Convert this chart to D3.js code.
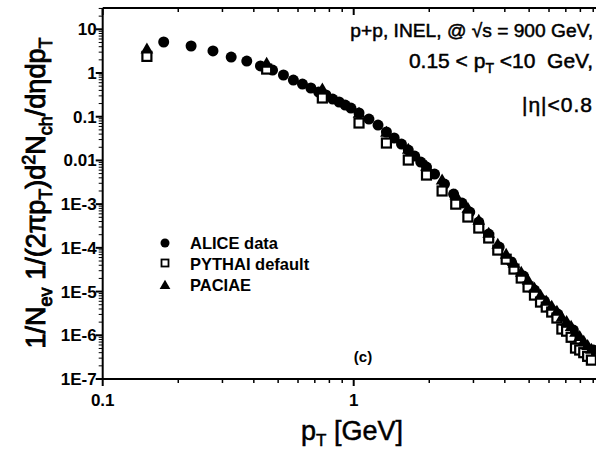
<!DOCTYPE html>
<html>
<head>
<meta charset="utf-8">
<script src="https://d3js.org/d3.v7.min.js"></script>
<style>
  body { margin: 0; background: #fff; }
  text { font-family: Arial, "Liberation Sans", sans-serif; fill: #000; }
</style>
</head>
<body>
<div id="chart"></div>
<script>
// ALICE data, pT bin centres [GeV] and 1/Nev 1/(2pi pT) d2N/deta dpT
var alicePt = [0.175, 0.225, 0.275, 0.325, 0.375, 0.425, 0.475, 0.525, 0.575, 0.625,
  0.675, 0.725, 0.775, 0.825, 0.875, 0.925, 0.975, 1.05, 1.15, 1.25, 1.35, 1.45, 1.55,
  1.65, 1.75, 1.85, 1.95, 2.1, 2.3, 2.5, 2.7, 2.9, 3.15, 3.45, 3.8, 4.25, 4.75, 5.25,
  5.75, 6.5, 7.5, 9.0];
var aliceVal = [5.12, 4.15, 3.19, 2.32, 1.88, 1.45, 1.17, 0.90, 0.69, 0.56,
  0.454, 0.367, 0.314, 0.254, 0.217, 0.185, 0.158, 0.122, 0.0886, 0.0646, 0.0447, 0.0326, 0.0237,
  0.0173, 0.0126, 0.00919, 0.00706, 0.00489, 0.00288, 0.00170, 0.00106, 6.59e-4, 3.89e-4, 2.07e-4, 1.04e-4, 4.73e-5, 2.26e-5, 1.08e-5,
  6.06e-6, 3.06e-6, 1.32e-6, 4.6e-7];

// model pT points
var modelPt = [0.15, 0.45, 0.75, 1.05, 1.35, 1.65, 1.95, 2.25, 2.55, 2.85, 3.15, 3.45, 3.75,
  4.05, 4.35, 4.65, 4.95, 5.25, 5.55, 5.85, 6.15, 6.45, 6.75, 7.05, 7.35, 7.65, 7.95, 8.25, 8.55, 8.85];
var pythiaVal = [2.4, 1.23, 0.268, 0.0718, 0.025, 0.0102, 0.00463, 0.0020, 0.00100, 5.07e-4, 2.84e-4, 1.68e-4, 8.9e-5,
  5.5e-5, 3.27e-5, 2.04e-5, 1.27e-5, 8.3e-6, 5.75e-6, 4.42e-6, 3.4e-6, 2.48e-6, 1.39e-6, 1.24e-6, 9.0e-7, 5.1e-7, 4.6e-7, 4.0e-7, 3.3e-7, 2.7e-7];
var paciaeVal = [3.4, 1.61, 0.41, 0.115, 0.0424, 0.0173, 0.00706, 0.0034, 0.00154, 7.7e-4, 4.1e-4, 2.07e-4, 1.16e-4,
  6.8e-5, 4.26e-5, 2.65e-5, 1.74e-5, 1.14e-5, 7.9e-6, 5.75e-6, 4.42e-6, 3.4e-6, 2.48e-6, 1.99e-6, 1.53e-6, 1.13e-6, 9.0e-7, 7.0e-7, 5.6e-7, 4.6e-7];

var yTickVals = [1e-7, 1e-6, 1e-5, 1e-4, 1e-3, 0.01, 0.1, 1, 10];
var yTickLabels = ["1E-7", "1E-6", "1E-5", "1E-4", "1E-3", "0.01", "0.1", "1", "10"];
var xTickVals = [0.1, 1];
var xTickLabels = ["0.1", "1"];
var legendNames = ["ALICE data", "PYTHAI default", "PACIAE"];

var width = 596, height = 452;
var margin = { top: 8, left: 102.7, bottom: 73 };

var svg = d3.select("#chart").append("svg")
  .attr("width", width).attr("height", height);

var x = d3.scaleLog().domain([0.1, 10]).range([margin.left, margin.left + 502]);
var y = d3.scaleLog().domain([1e-7, 30.7]).range([height - margin.bottom, margin.top]);

// minor tick positions
var xMinor = [], yMinor = [];
[0.1, 1].forEach(function (d) { for (var k = 2; k <= 9; k++) xMinor.push(d * k); });
for (var e = -7; e <= 1; e++) { for (var k = 2; k <= 9; k++) { var v = k * Math.pow(10, e); if (v < 30.7) yMinor.push(v); } }

var frame = svg.append("g").attr("stroke", "#000").attr("fill", "none");
// axes lines
frame.append("line").attr("x1", x(0.1)).attr("x2", x(10)).attr("y1", y(1e-7)).attr("y2", y(1e-7)).attr("stroke-width", 2);
frame.append("line").attr("x1", x(0.1)).attr("x2", x(10)).attr("y1", y(30.7)).attr("y2", y(30.7)).attr("stroke-width", 2);
frame.append("line").attr("x1", x(0.1)).attr("x2", x(0.1)).attr("y1", y(1e-7)).attr("y2", y(30.7)).attr("stroke-width", 2);

// bottom ticks (outward), top ticks (inward)
frame.selectAll(".xmaj").data(xTickVals.concat([10])).enter().append("line")
  .attr("x1", d => x(d)).attr("x2", d => x(d))
  .attr("y1", y(1e-7)).attr("y2", y(1e-7) + 7).attr("stroke-width", 2);
frame.selectAll(".xmin").data(xMinor).enter().append("line")
  .attr("x1", d => x(d)).attr("x2", d => x(d))
  .attr("y1", y(1e-7)).attr("y2", y(1e-7) + 4).attr("stroke-width", 1.5);
frame.selectAll(".xmajT").data(xTickVals).enter().append("line")
  .attr("x1", d => x(d)).attr("x2", d => x(d))
  .attr("y1", y(30.7)).attr("y2", y(30.7) + 7).attr("stroke-width", 2);
frame.selectAll(".xminT").data(xMinor).enter().append("line")
  .attr("x1", d => x(d)).attr("x2", d => x(d))
  .attr("y1", y(30.7)).attr("y2", y(30.7) + 4).attr("stroke-width", 1.5);

// left ticks (outward)
frame.selectAll(".ymaj").data(yTickVals).enter().append("line")
  .attr("x1", x(0.1) - 7).attr("x2", x(0.1))
  .attr("y1", d => y(d)).attr("y2", d => y(d)).attr("stroke-width", 2);
frame.selectAll(".ymin").data(yMinor).enter().append("line")
  .attr("x1", x(0.1) - 4).attr("x2", x(0.1))
  .attr("y1", d => y(d)).attr("y2", d => y(d)).attr("stroke-width", 1);

// tick labels
svg.selectAll(".ylab").data(yTickVals).enter().append("text")
  .attr("x", x(0.1) - 6).attr("y", d => y(d) + 6)
  .attr("text-anchor", "end").attr("font-size", 17).attr("font-weight", "bold")
  .text((d, i) => yTickLabels[i]);
svg.selectAll(".xlab").data(xTickVals).enter().append("text")
  .attr("x", d => x(d)).attr("y", y(1e-7) + 27)
  .attr("text-anchor", "middle").attr("font-size", 17).attr("font-weight", "bold")
  .text((d, i) => xTickLabels[i]);

// axis titles (slight stroke to match the heavy print)
var xt = svg.append("text").attr("x", 352).attr("y", 440).attr("text-anchor", "middle")
  .attr("font-size", 27).attr("stroke", "#000").attr("stroke-width", 0.5);
xt.append("tspan").text("p");
xt.append("tspan").attr("font-size", 17).attr("dy", 6).text("T");
xt.append("tspan").attr("dy", -6).text(" [GeV]");

var yt = svg.append("text").attr("transform", "translate(45,193) rotate(-90)")
  .attr("text-anchor", "middle").attr("font-size", 27)
  .attr("stroke", "#000").attr("stroke-width", 0.9);
yt.append("tspan").text("1/N");
yt.append("tspan").attr("font-size", 18).attr("dy", 7).text("ev");
yt.append("tspan").attr("dy", -7).text(" 1/(2\u03c0p");
yt.append("tspan").attr("font-size", 18).attr("dy", 7).text("T");
yt.append("tspan").attr("dy", -7).text(")d");
yt.append("tspan").attr("font-size", 18).attr("dy", -10).text("2");
yt.append("tspan").attr("dy", 10).text("N");
yt.append("tspan").attr("font-size", 18).attr("dy", 7).text("ch");
yt.append("tspan").attr("dy", -7).text("/d\u03b7dp");
yt.append("tspan").attr("font-size", 18).attr("dy", 7).text("T");

// annotation
var ann = svg.append("g").attr("text-anchor", "end")
  .attr("stroke", "#000").attr("stroke-width", 0.5);
ann.append("text").attr("x", 593).attr("y", 37).attr("font-size", 19.2)
  .text("p+p, INEL, @ \u221as = 900 GeV,");
var l2 = ann.append("text").attr("x", 593).attr("y", 68).attr("font-size", 21);
l2.append("tspan").text("0.15 < p");
l2.append("tspan").attr("font-size", 14).attr("dy", 5).text("T");
l2.append("tspan").attr("dy", -5).text(" <10\u00a0\u00a0GeV,");
ann.append("text").attr("x", 593).attr("y", 112).attr("font-size", 21)
  .attr("letter-spacing", 1).text("|\u03b7|<0.8");

svg.append("text").attr("x", 363).attr("y", 362).attr("text-anchor", "middle")
  .attr("font-size", 15).attr("font-weight", "bold").text("(c)");

// data marks
var tri = d3.symbol().type(d3.symbolTriangle);
var plot = svg.append("g");
plot.selectAll(".alice").data(alicePt).enter().append("circle")
  .attr("cx", d => x(d)).attr("cy", (d, i) => y(aliceVal[i])).attr("r", 5.5).attr("fill", "#000");
plot.selectAll(".pythia").data(modelPt).enter().append("rect")
  .attr("x", d => x(d) - 4.5).attr("y", (d, i) => y(pythiaVal[i]) - 4.5)
  .attr("width", 9).attr("height", 9)
  .attr("fill", "#fff").attr("stroke", "#000").attr("stroke-width", 2.2);
plot.selectAll(".paciae").data(modelPt).enter().append("path")
  .attr("transform", (d, i) => "translate(" + x(d) + "," + y(paciaeVal[i]) + ")")
  .attr("d", tri.size(70)).attr("fill", "#000");

// legend
var leg = svg.append("g").attr("font-size", 16.5).attr("font-weight", "bold");
leg.append("circle").attr("cx", 165).attr("cy", 243).attr("r", 4.5).attr("fill", "#000");
leg.append("rect").attr("x", 161.5).attr("y", 259.5).attr("width", 7).attr("height", 7)
  .attr("fill", "#fff").attr("stroke", "#000").attr("stroke-width", 1.8);
leg.append("path").attr("transform", "translate(165,286)").attr("d", tri.size(50)).attr("fill", "#000");
leg.selectAll(".lt").data(legendNames).enter().append("text")
  .attr("x", 190).attr("y", (d, i) => 249 + i * 21).text(d => d);
</script>
</body>
</html>
